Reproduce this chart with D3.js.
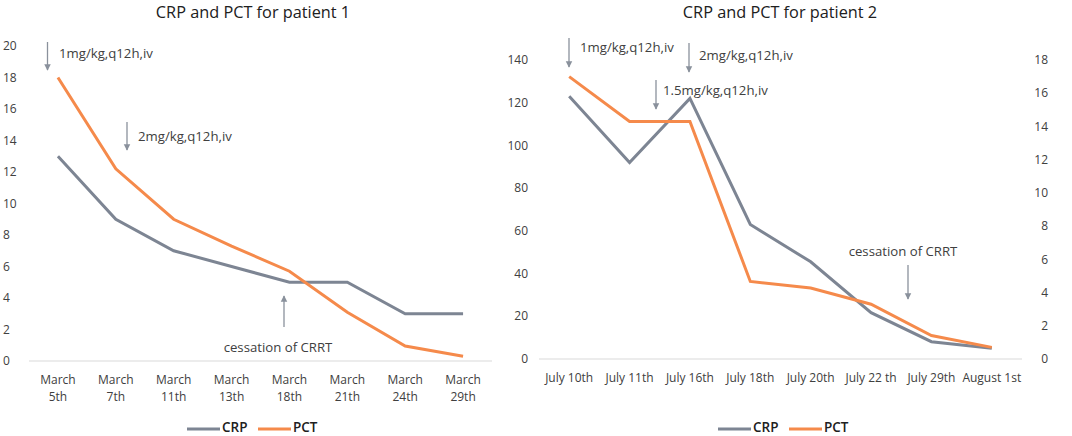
<!DOCTYPE html>
<meta charset="utf-8">
<script src="https://d3js.org/d3.v7.min.js"></script>
<style>
  body { margin: 0; background: #fff; }
  text { font-family: "Open Sans", sans-serif; }
</style>
<div id="my_dataviz"></div>
<script>

// patient 1
var dates1 = ["March 5th", "March 7th", "March 11th", "March 13th", "March 18th", "March 21th", "March 24th", "March 29th"];
var crp1 = [13, 9, 7, 6, 5, 5, 3, 3];
var pct1 = [18, 12.2, 9, 7.3, 5.7, 3.1, 0.95, 0.3];
var yTicks1 = [0, 2, 4, 6, 8, 10, 12, 14, 16, 18, 20];

// patient 2
var dates2 = ["July 10th", "July 11th", "July 16th", "July 18th", "July 20th", "July 22 th", "July 29th", "August 1st"];
var crp2 = [123, 92, 122, 63, 45.5, 21.7, 8.1, 5];
var pct2 = [17, 14.3, 14.3, 4.67, 4.27, 3.3, 1.41, 0.7];
var yTicks2 = [0, 20, 40, 60, 80, 100, 120, 140];
var yTicks2r = [0, 2, 4, 6, 8, 10, 12, 14, 16, 18];

var crpColor = "#7d8593",
    pctColor = "#f58a4b",
    arrowColor = "#8a919c",
    textColor = "#404040";

var svg = d3.select("#my_dataviz")
  .append("svg")
    .attr("width", 1072)
    .attr("height", 436);

svg.append("defs").append("marker")
    .attr("id", "head")
    .attr("viewBox", "0 0 10 10")
    .attr("refX", 9).attr("refY", 5)
    .attr("markerWidth", 5).attr("markerHeight", 5.5)
    .attr("markerUnits", "strokeWidth")
    .attr("orient", "auto")
  .append("path")
    .attr("d", "M0,0 L10,5 L0,10 z")
    .attr("fill", arrowColor);

function drawChart(opt) {
  var g = svg.append("g");

  var x = d3.scaleBand()
    .domain(opt.dates)
    .range([opt.x0, opt.x1]);

  var y = d3.scaleLinear()
    .domain([0, opt.yMax])
    .range([opt.yBottom, opt.yTop]);

  // baseline
  g.append("line")
    .attr("x1", opt.x0).attr("x2", opt.x1)
    .attr("y1", y(0)).attr("y2", y(0))
    .attr("stroke", "#d9d9d9").attr("stroke-width", 1);

  // left axis labels
  g.selectAll(".yl")
    .data(opt.yTicks)
    .enter().append("text")
      .attr("x", opt.yLabelX)
      .attr("y", function(d) { return y(d); })
      .attr("dy", "0.35em")
      .attr("text-anchor", opt.yAnchor)
      .attr("font-size", 12)
      .attr("fill", textColor)
      .text(function(d) { return d; });

  var y2 = null;
  if (opt.pctMax) {
    y2 = d3.scaleLinear()
      .domain([0, opt.pctMax])
      .range([opt.yBottom, opt.yTop]);
    g.selectAll(".yr")
      .data(opt.yTicksR)
      .enter().append("text")
        .attr("x", opt.yRLabelX)
        .attr("y", function(d) { return y2(d); })
        .attr("dy", "0.35em")
        .attr("text-anchor", "end")
        .attr("font-size", 12)
        .attr("fill", textColor)
        .text(function(d) { return d; });
  }

  // x labels
  var xl = g.selectAll(".xl")
    .data(opt.dates)
    .enter().append("text")
      .attr("x", function(d) { return x(d) + x.bandwidth() / 2; })
      .attr("y", opt.xLabelY)
      .attr("text-anchor", "middle")
      .attr("font-size", 12)
      .attr("fill", textColor);
  if (opt.wrapDates) {
    xl.each(function(d) {
      var parts = d.split(" ");
      var t = d3.select(this);
      t.append("tspan").attr("x", t.attr("x")).text(parts[0]);
      t.append("tspan").attr("x", t.attr("x")).attr("dy", 17).text(parts[1]);
    });
  } else {
    xl.text(function(d) { return d; });
  }

  var cx = function(i) { return x(opt.dates[i]) + x.bandwidth() / 2; };

  var crpLine = d3.line()
    .x(function(d, i) { return cx(i); })
    .y(function(d) { return y(d); });
  var pctLine = d3.line()
    .x(function(d, i) { return cx(i); })
    .y(function(d) { return (y2 || y)(d); });

  g.append("path")
    .datum(opt.crp)
    .attr("fill", "none")
    .attr("stroke", crpColor)
    .attr("stroke-width", 3)
    .attr("d", crpLine);

  g.append("path")
    .datum(opt.pct)
    .attr("fill", "none")
    .attr("stroke", pctColor)
    .attr("stroke-width", 3)
    .attr("d", pctLine);

  // title
  g.append("text")
    .attr("x", opt.titleX)
    .attr("y", 18)
    .attr("text-anchor", "middle")
    .attr("font-size", 16.3)
    .attr("fill", "#202020")
    .text(opt.title);

  // annotations
  opt.notes.forEach(function(n) {
    g.append("line")
      .attr("x1", n.ax).attr("x2", n.ax)
      .attr("y1", n.ay1).attr("y2", n.ay2)
      .attr("stroke", arrowColor)
      .attr("stroke-width", 1.3)
      .attr("marker-end", "url(#head)");
    g.append("text")
      .attr("x", n.tx)
      .attr("y", n.ty)
      .attr("dy", "0.35em")
      .attr("text-anchor", n.anchor || "start")
      .attr("font-size", 13.2)
      .attr("fill", textColor)
      .text(n.text);
  });

  // legend
  var lg = g.append("g").attr("transform", "translate(" + opt.legendX + ",429)");
  [["CRP", crpColor, 0], ["PCT", pctColor, 71]].forEach(function(l) {
    lg.append("line")
      .attr("x1", l[2]).attr("x2", l[2] + 33)
      .attr("y1", 0).attr("y2", 0)
      .attr("stroke", l[1]).attr("stroke-width", 3);
    lg.append("text")
      .attr("x", l[2] + 35)
      .attr("y", 2.5)
      .attr("font-size", 13.5)
      .attr("font-weight", 600)
      .attr("fill", "#202020")
      .text(l[0]);
  });
}

drawChart({
  title: "CRP and PCT for patient 1",
  titleX: 253,
  dates: dates1,
  crp: crp1,
  pct: pct1,
  yTicks: yTicks1,
  yMax: 20,
  x0: 29, x1: 492,
  yTop: 46, yBottom: 361,
  yLabelX: 3, yAnchor: "start",
  xLabelY: 384,
  wrapDates: true,
  legendX: 187,
  notes: [
    {ax: 47.5, ay1: 42, ay2: 70, tx: 59, ty: 53, text: "1mg/kg,q12h,iv"},
    {ax: 127, ay1: 122, ay2: 150, tx: 138, ty: 136, text: "2mg/kg,q12h,iv"},
    {ax: 284, ay1: 327, ay2: 296, tx: 278, ty: 347, anchor: "middle", text: "cessation of CRRT"}
  ]
});

drawChart({
  title: "CRP and PCT for patient 2",
  titleX: 780,
  dates: dates2,
  crp: crp2,
  pct: pct2,
  yTicks: yTicks2,
  yMax: 140,
  pctMax: 18,
  yTicksR: yTicks2r,
  x0: 539, x1: 1022,
  yTop: 60, yBottom: 359,
  yLabelX: 528, yAnchor: "end",
  yRLabelX: 1048,
  xLabelY: 382,
  wrapDates: false,
  legendX: 718,
  notes: [
    {ax: 569, ay1: 38, ay2: 67, tx: 580, ty: 47, text: "1mg/kg,q12h,iv"},
    {ax: 689, ay1: 43, ay2: 72, tx: 699, ty: 55, text: "2mg/kg,q12h,iv"},
    {ax: 656, ay1: 80, ay2: 109, tx: 663, ty: 90, text: "1.5mg/kg,q12h,iv"},
    {ax: 908, ay1: 265, ay2: 299, tx: 903, ty: 251, anchor: "middle", text: "cessation of CRRT"}
  ]
});

</script>
